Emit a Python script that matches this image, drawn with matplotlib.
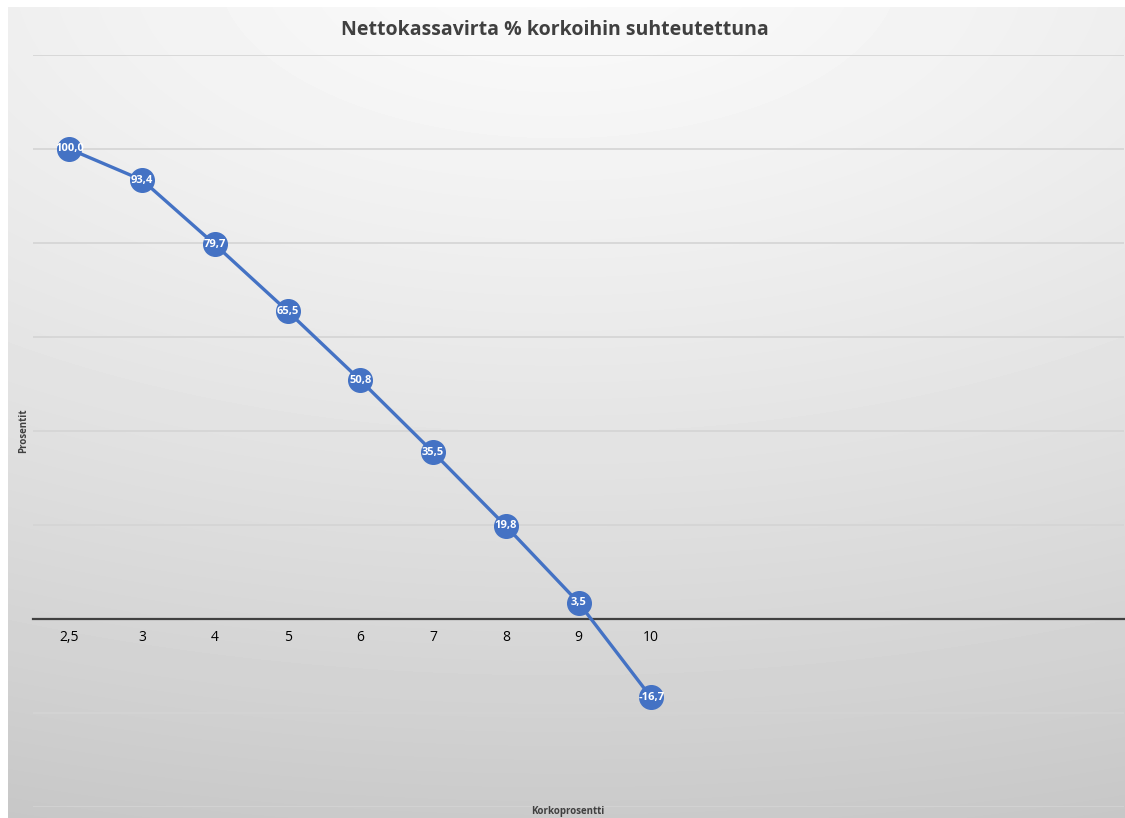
import numpy as np
import matplotlib.pyplot as plt

# Korkoprosentit ja nettokassavirta (%)
korot = ["2,5", "3", "4", "5", "6", "7", "8", "9", "10"]
nettokassavirta = [100.0, 93.4, 79.7, 65.5, 50.8, 35.5, 19.8, 3.5, -16.7]
tyhjat_paikat = 6  # tyhjiä kategorioita oikealla

plt.rcParams["font.family"] = ["Open Sans", "DejaVu Sans"]

W, H = 1125, 818
fig = plt.figure(figsize=(W / 100, H / 100), dpi=100)
fig.patch.set_facecolor("white")

# taustan liukuväri
bg = fig.add_axes([8 / W, 0, 1 - 8 / W, 1 - 7 / H])
yy, xx = np.mgrid[0:811, 0:1117]
d = np.sqrt(((xx - 550) / 1700.0) ** 2 + ((yy + 40) / 850.0) ** 2)
shade = np.clip(250 - 48 * d ** 1.3, 0, 255) / 255.0
bg.imshow(shade, cmap="gray", vmin=0, vmax=1, aspect="auto", interpolation="bilinear")
bg.axis("off")

ax = fig.add_axes([33 / W, 1 - 807 / H, (1124 - 33) / W, (807 - 55) / H])
ax.set_facecolor("none")

x = np.arange(len(korot))
ax.plot(x, nettokassavirta, color="#4472C4", lw=2.4, marker="o",
        markersize=17, markeredgecolor="#4472C4", zorder=3)
for xi, v in zip(x, nettokassavirta):
    ax.text(xi, v, f"{v:.1f}".replace(".", ","), color="white", fontsize=8,
            fontweight="bold", ha="center", va="center", zorder=4)

ax.set_xlim(-0.5, len(korot) + tyhjat_paikat - 0.5)
ax.set_ylim(-40, 120)
ax.set_yticks(np.arange(-40, 121, 20))
ax.set_yticklabels([])
ax.set_xticks(x)
ax.set_xticklabels(korot, fontsize=6.5, color="#666666")
ax.tick_params(axis="both", length=0)
ax.tick_params(axis="x", pad=8)
ax.grid(axis="y", color="#d4d4d4", lw=1.2)
ax.set_axisbelow(True)

for s in ["top", "right", "left"]:
    ax.spines[s].set_visible(False)
ax.spines["bottom"].set_position(("data", 0))
ax.spines["bottom"].set_color("#404040")
ax.spines["bottom"].set_linewidth(1.6)

fig.text(555 / W, 1 - 30 / H, "Nettokassavirta % korkoihin suhteutettuna",
         fontsize=14, fontweight="bold", color="#404040", ha="center", va="center")
fig.text(24 / W, 1 - 431 / H, "Prosentit", fontsize=7, fontweight="bold",
         color="#404040", rotation=90, ha="center", va="center")
fig.text(568 / W, 1 / H, "Korkoprosentti", fontsize=7, fontweight="bold",
         color="#404040", ha="center", va="bottom")

fig.savefig("out.png", dpi=100)
